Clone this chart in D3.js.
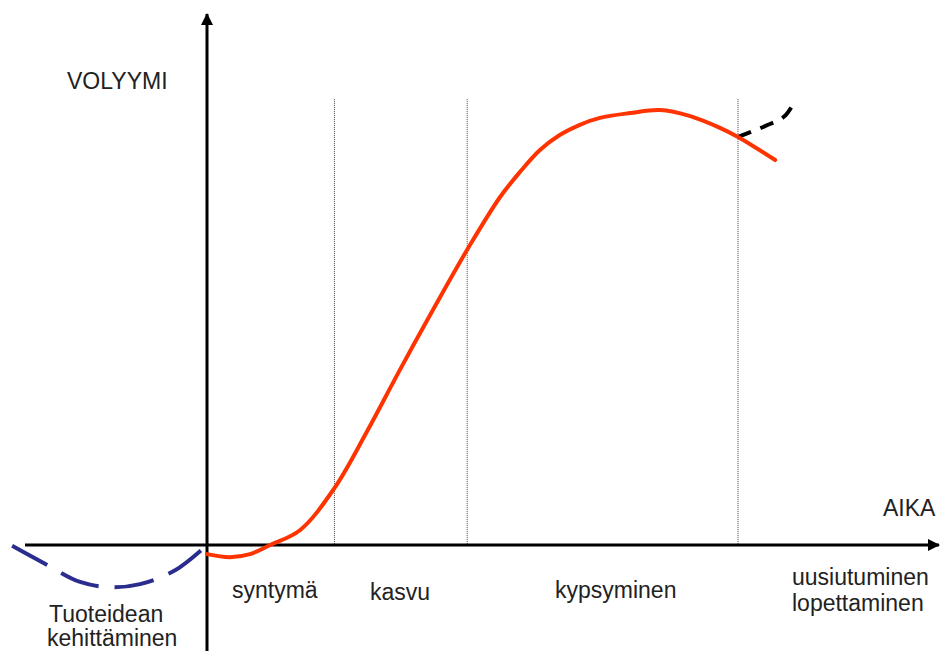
<!DOCTYPE html>
<html>
<head>
<meta charset="utf-8">
<script src="https://cdn.jsdelivr.net/npm/d3@7/dist/d3.min.js"></script>
<style>
  html, body { margin: 0; padding: 0; background: #fff; }
  svg { display: block; }
  text { font-family: "Liberation Sans", Arial, sans-serif; font-size: 23px; fill: #222; }
</style>
</head>
<body>
<div id="chart"></div>
<script>
// ---- Data (time units: 0 = product launch, 100 = end of maturity; volume units: 0..100) ----
const phaseBoundaries = [24, 49, 100];           // syntymä | kasvu | kypsyminen | uusiutuminen
const phaseLabels = ["syntymä", "kasvu", "kypsyminen"];
const lifecycleT = [0, 4.3, 8.1, 11.9, 17.5, 23.9, 30.0, 36.3, 42.8, 49.3, 55.2, 58.9, 62.7, 66.5, 70.2, 74.0, 79.7, 85.3, 91.0, 96.6, 100, 107];
const lifecycleV = [-2.1, -2.8, -2.1, 0, 3.4, 12.9, 25.8, 40.2, 54.6, 68.5, 80.0, 85.7, 90.8, 94.3, 96.6, 98.2, 99.3, 100, 98.6, 95.9, 93.8, 88.5];
const developT = [-36.7, -30.1, -23.9, -18.3, -12.6, -6.0, 0];
const developV = [-0.2, -4.6, -8.5, -9.7, -9.0, -5.8, 0];
const renewalT = [100, 105.1, 108.8, 110.7];
const renewalV = [93.8, 96.3, 98.6, 102.1];
const axisLabels = { y: "VOLYYMI", x: "AIKA" };
const devLabel = ["Tuoteidean", "kehittäminen"];
const endLabel = ["uusiutuminen", "lopettaminen"];

// ---- Layout ----
const W = 940, H = 651;
const x = d3.scaleLinear().domain([0, 100]).range([207, 738]);
const y = d3.scaleLinear().domain([0, 100]).range([545, 110]);

const svg = d3.select("#chart").append("svg").attr("width", W).attr("height", H);

const defs = svg.append("defs");
defs.append("marker")
  .attr("id", "arrow").attr("viewBox", "0 0 12 12")
  .attr("refX", 11).attr("refY", 6)
  .attr("markerWidth", 12).attr("markerHeight", 12)
  .attr("markerUnits", "userSpaceOnUse").attr("orient", "auto")
  .append("path").attr("d", "M0,0 L12,6 L0,12 Z").attr("fill", "#000");

// dotted phase boundaries
svg.selectAll("line.phase").data(phaseBoundaries).join("line")
  .attr("class", "phase")
  .attr("x1", d => x(d)).attr("x2", d => x(d))
  .attr("y1", y(102.5)).attr("y2", y(0))
  .attr("stroke", "#444").attr("stroke-width", 1).attr("stroke-dasharray", "1,1");

// axes
svg.append("line")
  .attr("x1", 25).attr("x2", 939).attr("y1", y(0)).attr("y2", y(0))
  .attr("stroke", "#000").attr("stroke-width", 3).attr("marker-end", "url(#arrow)");
svg.append("line")
  .attr("x1", x(0)).attr("x2", x(0)).attr("y1", H).attr("y2", 14)
  .attr("stroke", "#000").attr("stroke-width", 3).attr("marker-end", "url(#arrow)");

// curves
const smooth = d3.line().x(d => x(d[0])).y(d => y(d[1])).curve(d3.curveCatmullRom.alpha(0.5));

svg.append("path")
  .attr("d", smooth(developT.map((t, i) => [t, developV[i]])))
  .attr("fill", "none").attr("stroke", "#2b2d8e").attr("stroke-width", 4)
  .attr("stroke-dasharray", "40,16");

svg.append("path")
  .attr("d", smooth(renewalT.map((t, i) => [t, renewalV[i]])))
  .attr("fill", "none").attr("stroke", "#000").attr("stroke-width", 4)
  .attr("stroke-dasharray", "14,10");

svg.append("path")
  .attr("d", smooth(lifecycleT.map((t, i) => [t, lifecycleV[i]])))
  .attr("fill", "none").attr("stroke", "#ff3300").attr("stroke-width", 4)
  .attr("stroke-linecap", "round");

// labels
svg.append("text").attr("x", 67).attr("y", 89).text(axisLabels.y);
svg.append("text").attr("x", 883).attr("y", 516).text(axisLabels.x);

const phaseLabelX = [232, 370, 555];
const phaseLabelY = [598, 600, 598];
svg.selectAll("text.phase").data(phaseLabels).join("text")
  .attr("class", "phase")
  .attr("x", (d, i) => phaseLabelX[i]).attr("y", (d, i) => phaseLabelY[i])
  .text(d => d);

svg.append("text").attr("x", 49).attr("y", 622).text(devLabel[0]);
svg.append("text").attr("x", 47).attr("y", 646).text(devLabel[1]);
svg.append("text").attr("x", 792).attr("y", 585).text(endLabel[0]);
svg.append("text").attr("x", 792).attr("y", 611).text(endLabel[1]);
</script>
</body>
</html>
